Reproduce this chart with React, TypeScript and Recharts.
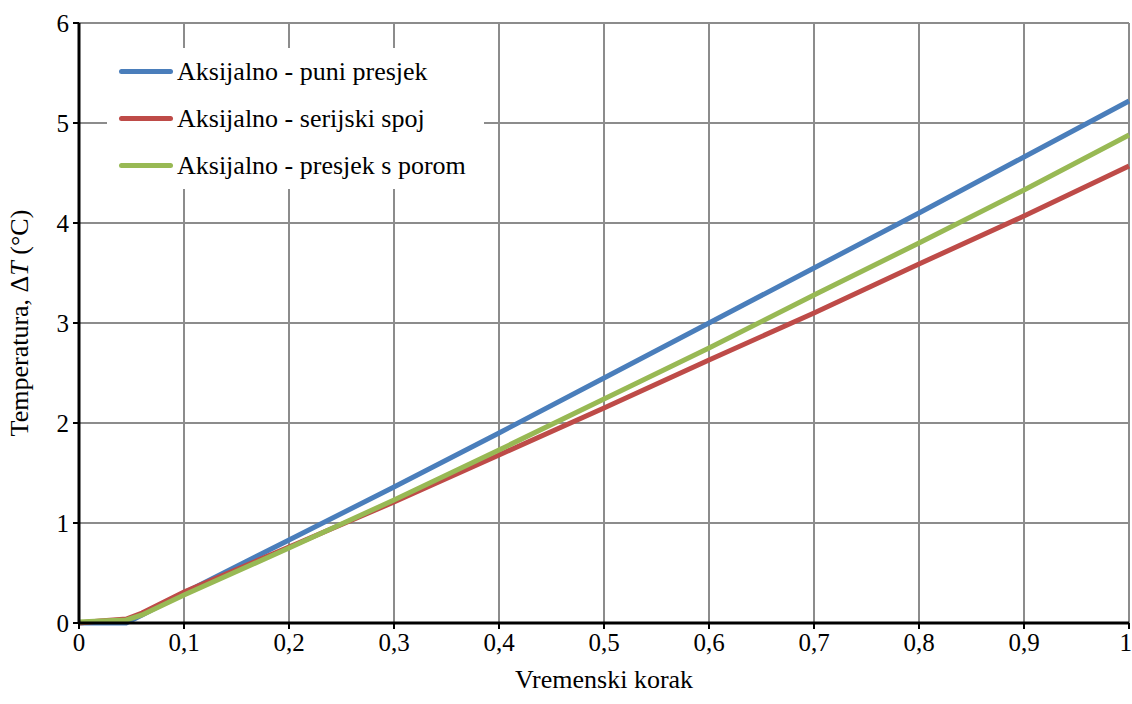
import React from 'react';
import { LineChart, Line, XAxis, YAxis, CartesianGrid } from 'recharts';

const steps = [0, 0.02, 0.045, 0.06, 0.1, 0.2, 0.3, 0.4, 0.5, 0.6, 0.7, 0.8, 0.9, 1.0];
const puniPresjek = [0, 0, 0, 0.08, 0.3, 0.83, 1.36, 1.9, 2.45, 3.0, 3.55, 4.1, 4.66, 5.22];
const serijskiSpoj = [0, 0.02, 0.04, 0.1, 0.31, 0.76, 1.21, 1.68, 2.15, 2.63, 3.1, 3.59, 4.07, 4.57];
const presjekSPorom = [0.01, 0.02, 0.03, 0.08, 0.28, 0.75, 1.23, 1.73, 2.24, 2.75, 3.28, 3.8, 4.33, 4.88];

const xTicks = [0, 0.1, 0.2, 0.3, 0.4, 0.5, 0.6, 0.7, 0.8, 0.9, 1];
const yTicks = [0, 1, 2, 3, 4, 5, 6];

const seriesInfo = [
  { key: 'puni', name: 'Aksijalno - puni presjek', color: '#4a7ebb' },
  { key: 'serijski', name: 'Aksijalno - serijski spoj', color: '#be4b48' },
  { key: 'porom', name: 'Aksijalno - presjek s porom', color: '#98b954' },
];

const data = steps.map((x, i) => ({
  x,
  puni: puniPresjek[i],
  serijski: serijskiSpoj[i],
  porom: presjekSPorom[i],
}));

const font = 'Liberation Serif';

// legend drawn as an overlay so it doesn't shrink the plot
const LegendBox = () => (
  <div style={{ position: 'absolute', left: 107, top: 48, width: 365, background: '#fff', padding: '0 0 0 12px', fontFamily: font, fontSize: 26, color: '#000' }}>
    {seriesInfo.map(s => (
      <div key={s.key} style={{ display: 'flex', alignItems: 'center', height: 47, whiteSpace: 'nowrap' }}>
        <div style={{ width: 54, height: 5, borderRadius: 3, background: s.color, marginRight: 4 }} />
        <span>{s.name}</span>
      </div>
    ))}
  </div>
);

const YLabel = (props: any) => {
  const { viewBox } = props;
  const cy = viewBox.y + viewBox.height / 2;
  return (
    <text x={28} y={cy} transform={`rotate(-90, 28, ${cy})`} textAnchor="middle" fontFamily={font} fontSize={26} fill="#000">
      Temperatura, Δ<tspan fontStyle="italic">T</tspan> (°C)
    </text>
  );
};

const App: React.FC = () => {
  return (
    <div style={{ position: 'fixed', left: 0, top: 0, width: 1132, height: 704, background: '#fff', fontFamily: font }}>
      <LineChart width={1132} height={704} data={data} margin={{ top: 23, right: 3, left: 0, bottom: 0 }}>
        <CartesianGrid stroke="#8c8c8c" strokeWidth={2} horizontal vertical />
        <XAxis
          dataKey="x"
          type="number"
          domain={[0, 1]}
          ticks={xTicks}
          tickFormatter={(v: number) => String(v).replace('.', ',')}
          stroke="#000"
          axisLine={{ stroke: '#000', strokeWidth: 3 }}
          tickLine={{ stroke: '#000', strokeWidth: 2 }}
          tickSize={6}
          tickMargin={4}
          tick={{ fill: '#000', fontFamily: font, fontSize: 25 }}
          height={81}
          label={{ value: 'Vremenski korak', position: 'insideBottom', offset: 16, fill: '#000', fontFamily: font, fontSize: 26 }}
        />
        <YAxis
          type="number"
          domain={[0, 6]}
          ticks={yTicks}
          stroke="#000"
          axisLine={{ stroke: '#000', strokeWidth: 3 }}
          tickLine={{ stroke: '#000', strokeWidth: 2 }}
          tickSize={6}
          tickMargin={4}
          tick={{ fill: '#000', fontFamily: font, fontSize: 25 }}
          width={79}
          label={<YLabel />}
        />
        {seriesInfo.map(s => (
          <Line
            key={s.key}
            type="linear"
            dataKey={s.key}
            name={s.name}
            stroke={s.color}
            strokeWidth={5}
            dot={false}
            isAnimationActive={false}
          />
        ))}
      </LineChart>
      <LegendBox />
    </div>
  );
};

export default App;
